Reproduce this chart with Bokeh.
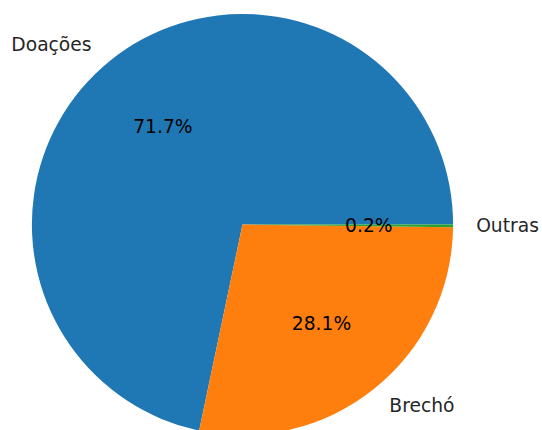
import math
from bokeh.plotting import figure
from bokeh.models import Range1d, ColumnDataSource
from bokeh.core.properties import value
from bokeh.embed import file_html
from bokeh.resources import INLINE

categories = ["Doações", "Brechó", "Outras"]
shares = [71.7, 28.1, 0.2]
colors = ["#1f77b4", "#ff7f0e", "#2ca02c"]

# layout (pixels inside the figure)
W, H = 542, 430
cx, cy, R = 242.0, 224.0, 210.6
x0 = (0 - cx) / R
x1 = (W - cx) / R
y_top = (cy - 0) / R
y_bot = (cy - H) / R

total = sum(shares)
starts, ends = [], []
acc = 0.0
for s in shares:
    starts.append(2 * math.pi * acc / total)
    acc += s
    ends.append(2 * math.pi * acc / total)
mids = [(a + b) / 2 for a, b in zip(starts, ends)]

p = figure(width=W, height=H, output_backend="svg", toolbar_location=None,
           x_range=Range1d(x0, x1), y_range=Range1d(y_bot, y_top),
           min_border=0, min_border_left=0, min_border_right=0,
           min_border_top=0, min_border_bottom=0)
p.axis.visible = False
p.grid.visible = False
p.outline_line_color = None
p.background_fill_color = "white"
p.border_fill_color = "white"

src = ColumnDataSource(dict(start=starts, end=ends, color=colors, cat=categories))
p.wedge(x=0, y=0, radius=1.0, start_angle="start", end_angle="end",
        direction="anticlock", fill_color="color", line_color=None, source=src)

font = value("DejaVu Sans")
fs = "18.7px"
for cat, m in zip(categories, mids):
    lx, ly = 1.1 * math.cos(m), 1.1 * math.sin(m)
    right = lx > 0
    p.text(x=[lx], y=[ly], text=[cat], text_font=font, text_font_size=fs,
           text_align="left" if right else "right", text_baseline="middle",
           x_offset=2 if right else -5, text_color="#262626")
for s, m in zip(shares, mids):
    px, py = 0.6 * math.cos(m), 0.6 * math.sin(m)
    p.text(x=[px], y=[py], text=["%.1f%%" % (100 * s / total)], text_font=font,
           text_font_size=fs, text_align="center", text_baseline="middle",
           text_color="#000000")

open("out.html", "w").write(file_html(p, INLINE))
